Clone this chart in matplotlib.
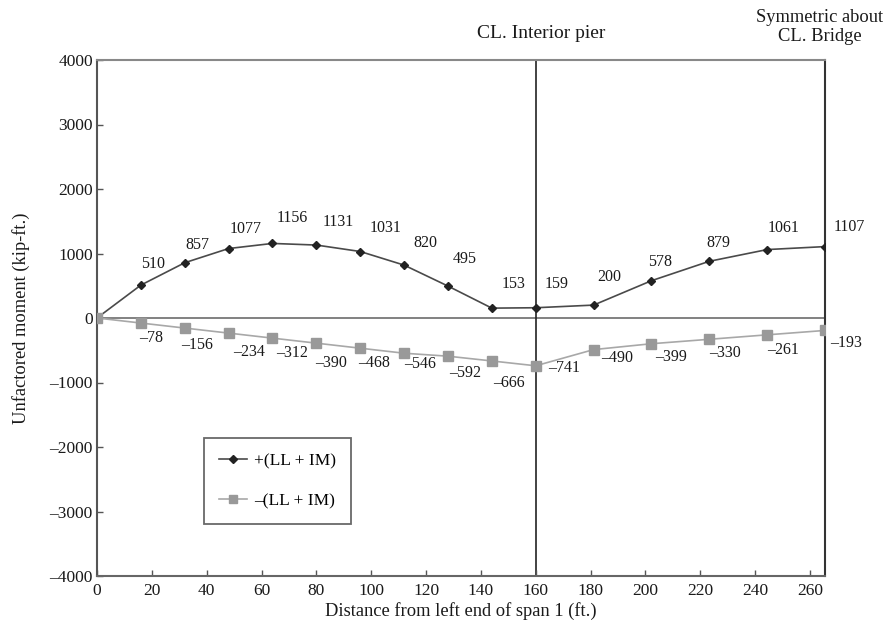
import matplotlib
matplotlib.use("Agg")
import matplotlib.pyplot as plt

plt.rcParams['font.family'] = ['Liberation Serif', 'DejaVu Serif']

# Distance from left end of span 1 (ft.)
distance = [0, 16, 32, 48, 64, 80, 96, 112, 128, 144, 160,
            181.1, 202.2, 223.3, 244.4, 265.5]
# Unfactored live-load moments (kip-ft.)
pos_moment = [0, 510, 857, 1077, 1156, 1131, 1031, 820, 495, 153, 159,
              200, 578, 879, 1061, 1107]
neg_moment = [0, -78, -156, -234, -312, -390, -468, -546, -592, -666, -741,
              -490, -399, -330, -261, -193]

# label offsets in pixels (dx, dy) relative to each marker
pos_offsets = [None, (12, 21), (13, 18), (17, 20), (20, 25), (22, 23), (25, 24),
               (21, 22), (17, 27), (22, 24), (21, 24), (16, 28), (9, 19),
               (9, 18), (16, 22), (24, 20)]
neg_offsets = [None, (10, -15), (12, -17), (20, -19), (20, -15), (15, -20),
               (14, -15), (16, -11), (17, -17), (17, -22), (28, -2), (24, -8),
               (20, -13), (16, -14), (16, -15), (21, -13)]

fig = plt.figure(figsize=(8.88, 6.26), dpi=100)
ax = fig.add_axes([97/888, 1-576/626, (825-97)/888, (576-60)/626])

ax.set_xlim(0, 265.5)
ax.set_ylim(-4000, 4000)

ax.axhline(0, color='#777777', lw=1.3, zorder=1)
ax.axvline(160, color='#222222', lw=1.2, zorder=1)

ax.plot(distance, pos_moment, color='#4a4a4a', lw=1.2, marker='D',
        markersize=4.5, markerfacecolor='#222222', markeredgecolor='#222222',
        label='+(LL + IM)', zorder=3)
ax.plot(distance, neg_moment, color='#a8a8a8', lw=1.2, marker='s',
        markersize=7, markerfacecolor='#999999', markeredgecolor='#999999',
        label='\u2013(LL + IM)', zorder=3)

fs = 11.5
for x, v, off in zip(distance, pos_moment, pos_offsets):
    if off is None:
        continue
    ax.annotate(f"{v}", (x, v), xytext=off, textcoords='offset pixels',
                ha='center', va='center', fontsize=fs, color='#1a1a1a')
for x, v, off in zip(distance, neg_moment, neg_offsets):
    if off is None:
        continue
    ax.annotate(f"\u2013{abs(v)}", (x, v), xytext=off, textcoords='offset pixels',
                ha='center', va='center', fontsize=fs, color='#1a1a1a')

ax.set_xticks(range(0, 261, 20))
ax.set_yticks(range(-4000, 4001, 1000))
ax.set_yticklabels([f"\u2013{abs(t)}" if t < 0 else str(t) for t in range(-4000, 4001, 1000)])
ax.tick_params(direction='in', length=4, width=1, colors='#555555',
               labelsize=12.5, labelcolor='#1a1a1a')
ax.tick_params(axis='x', pad=5)
ax.tick_params(axis='y', pad=3)

for name, sp in ax.spines.items():
    sp.set_linewidth(1.5)
ax.spines['left'].set_color('#555555')
ax.spines['bottom'].set_color('#666666')
ax.spines['top'].set_color('#888888')
ax.spines['right'].set_color('#333333')

ax.set_xlabel('Distance from left end of span 1 (ft.)', fontsize=13.3, color='#1a1a1a', labelpad=2)
ax.set_ylabel('Unfactored moment (kip-ft.)', fontsize=13.3, color='#1a1a1a', labelpad=14)

fig.text(541/888, 1-33/626, 'CL. Interior pier', ha='center', va='center',
         fontsize=14, color='#1a1a1a')
fig.text(820/888, 1-27/626, 'Symmetric about\nCL. Bridge', ha='center', va='center',
         fontsize=13.3, color='#1a1a1a', linespacing=1.15)

leg = ax.legend(loc='upper left', bbox_to_anchor=((204-97)/728, (576-438)/516),
                borderaxespad=0, fontsize=12.5, frameon=True, fancybox=False,
                edgecolor='#444444', borderpad=0.85, labelspacing=1.4,
                handlelength=1.6, handletextpad=0.45, markerscale=0.85)
leg.get_frame().set_linewidth(1.3)

fig.savefig('out.png', dpi=100)
